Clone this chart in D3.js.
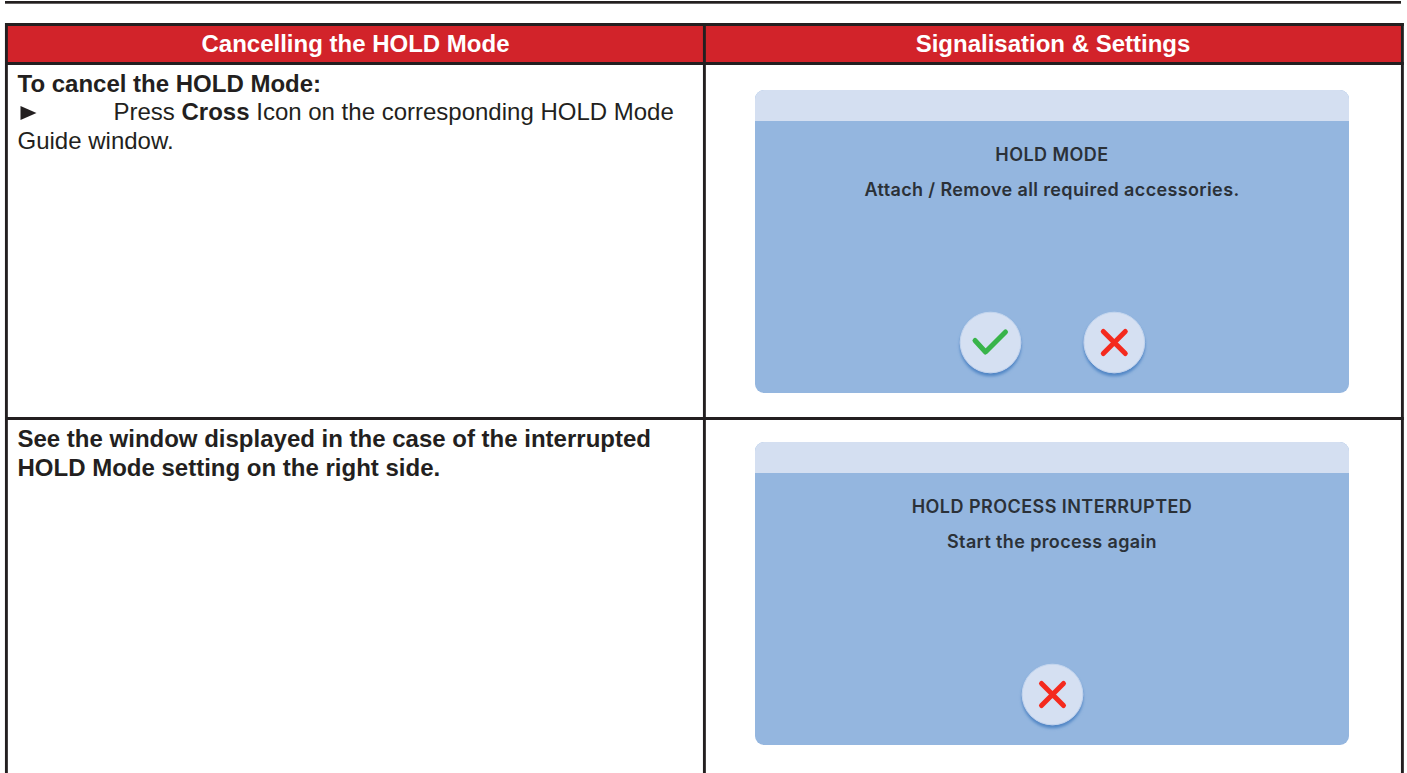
<!DOCTYPE html>
<html><head><meta charset="utf-8">
<script src="https://cdn.jsdelivr.net/npm/d3@7/dist/d3.min.js"></script>
<style>html,body{margin:0;padding:0;background:#fff;overflow:hidden}svg{display:block}</style></head>
<body><svg id="c" width="1407" height="773"></svg>
<script>
const headers = ["Cancelling the HOLD Mode", "Signalisation & Settings"];
const leftLines = [
  {y:92, x:17.5, runs:[["To cancel the HOLD Mode:",700]]},
  {y:120, x:113.5, runs:[["Press ",400],["Cross",700],[" Icon on the corresponding HOLD Mode",400]]},
  {y:149, x:17.5, runs:[["Guide window.",400]]},
  {y:447, x:17.5, runs:[["See the window displayed in the case of the interrupted",700]]},
  {y:476, x:17.5, runs:[["HOLD Mode setting on the right side.",700]]}
];
const panels = [
  {top:90, title:"HOLD MODE", message:"Attach / Remove all required accessories.", buttons:[["check",990.5],["cross",1114.3]]},
  {top:442, title:"HOLD PROCESS INTERRUPTED", message:"Start the process again", buttons:[["cross",1052.5]]}
];
const ink="#231f20", red="#d2232a", bar="#d4dff1", body="#94b6df";
const svg=d3.select("#c");
const defs=svg.append("defs");
const f=defs.append("filter").attr("id","sh").attr("x","-30%").attr("y","-30%").attr("width","160%").attr("height","170%");
f.append("feDropShadow").attr("dx",0).attr("dy",3).attr("stdDeviation",1.8).attr("flood-color","#4a80c2").attr("flood-opacity",.9);

svg.append("rect").attr("x",5).attr("y",1).attr("width",1396).attr("height",2.7).attr("fill",ink);
svg.append("rect").attr("x",6).attr("y",25).attr("width",1396).attr("height",38).attr("fill",red);
const lines=[[6.4,23,6.4,773],[704.4,23,704.4,773],[1402.4,23,1402.4,773],[5,24.5,1403.8,24.5],[5,63.5,1403.8,63.5],[5,418.5,1403.8,418.5]];
svg.selectAll("line.g").data(lines).join("line").attr("class","g")
 .attr("x1",d=>d[0]).attr("y1",d=>d[1]).attr("x2",d=>d[2]).attr("y2",d=>d[3])
 .attr("stroke",ink).attr("stroke-width",2.9);
const font="'Liberation Sans',Arial,sans-serif";
svg.selectAll("text.h").data(headers).join("text").attr("class","h")
 .attr("x",(d,i)=>[355.5,1053][i]).attr("y",52).attr("text-anchor","middle")
 .attr("font-family",font).attr("font-weight",700).attr("font-size",24).attr("fill","#fff").text(d=>d);
const t=svg.selectAll("text.b").data(leftLines).join("text").attr("class","b")
 .attr("x",d=>d.x).attr("y",d=>d.y).attr("font-family",font).attr("font-size",24).attr("fill",ink);
t.selectAll("tspan").data(d=>d.runs).join("tspan").attr("font-weight",d=>d[1]).text(d=>d[0]);
svg.append("path").attr("d","M20.5,106 L36.5,113 L20.5,120 Z").attr("fill",ink);

const pw=594, px=755, h=303, head=31, r=9;
const g=svg.selectAll("g.p").data(panels).join("g").attr("class","p").attr("transform",d=>`translate(${px},${d.top})`);
g.append("rect").attr("width",pw).attr("height",h).attr("rx",r).attr("fill",body);
g.append("path").attr("d",`M0,${head}V${r}A${r},${r} 0 0 1 ${r},0H${pw-r}A${r},${r} 0 0 1 ${pw},${r}V${head}Z`).attr("fill",bar);
const pf="Inter,'Open Sans',sans-serif";
g.append("text").attr("x",297).attr("y",71).attr("text-anchor","middle").attr("font-family",pf).attr("font-weight",600).attr("font-size",18).attr("letter-spacing",.45).attr("fill","#2b3138").text(d=>d.title);
g.append("text").attr("x",297).attr("y",105.5).attr("text-anchor","middle").attr("font-family",pf).attr("font-weight",600).attr("font-size",18).attr("letter-spacing",.37).attr("fill","#2b3138").text(d=>d.message);
const b=g.selectAll("g.b").data(d=>d.buttons).join("g").attr("class","b").attr("transform",d=>`translate(${d[1]-px},252.5)`);
b.append("circle").attr("r",30.3).attr("fill","#d5e0f2").attr("stroke","#c3d5ee").attr("stroke-width",1).attr("filter","url(#sh)");
b.append("path").attr("d",d=>d[0]==="check"?"M-15.5,-2 L-5,9.5 L15,-10.5":"M-11,-11 L11,11 M11,-11 L-11,11")
 .attr("fill","none").attr("stroke",d=>d[0]==="check"?"#38b44a":"#f42a1e").attr("stroke-width",5).attr("stroke-linecap","round").attr("stroke-linejoin","round");
</script></body></html>
